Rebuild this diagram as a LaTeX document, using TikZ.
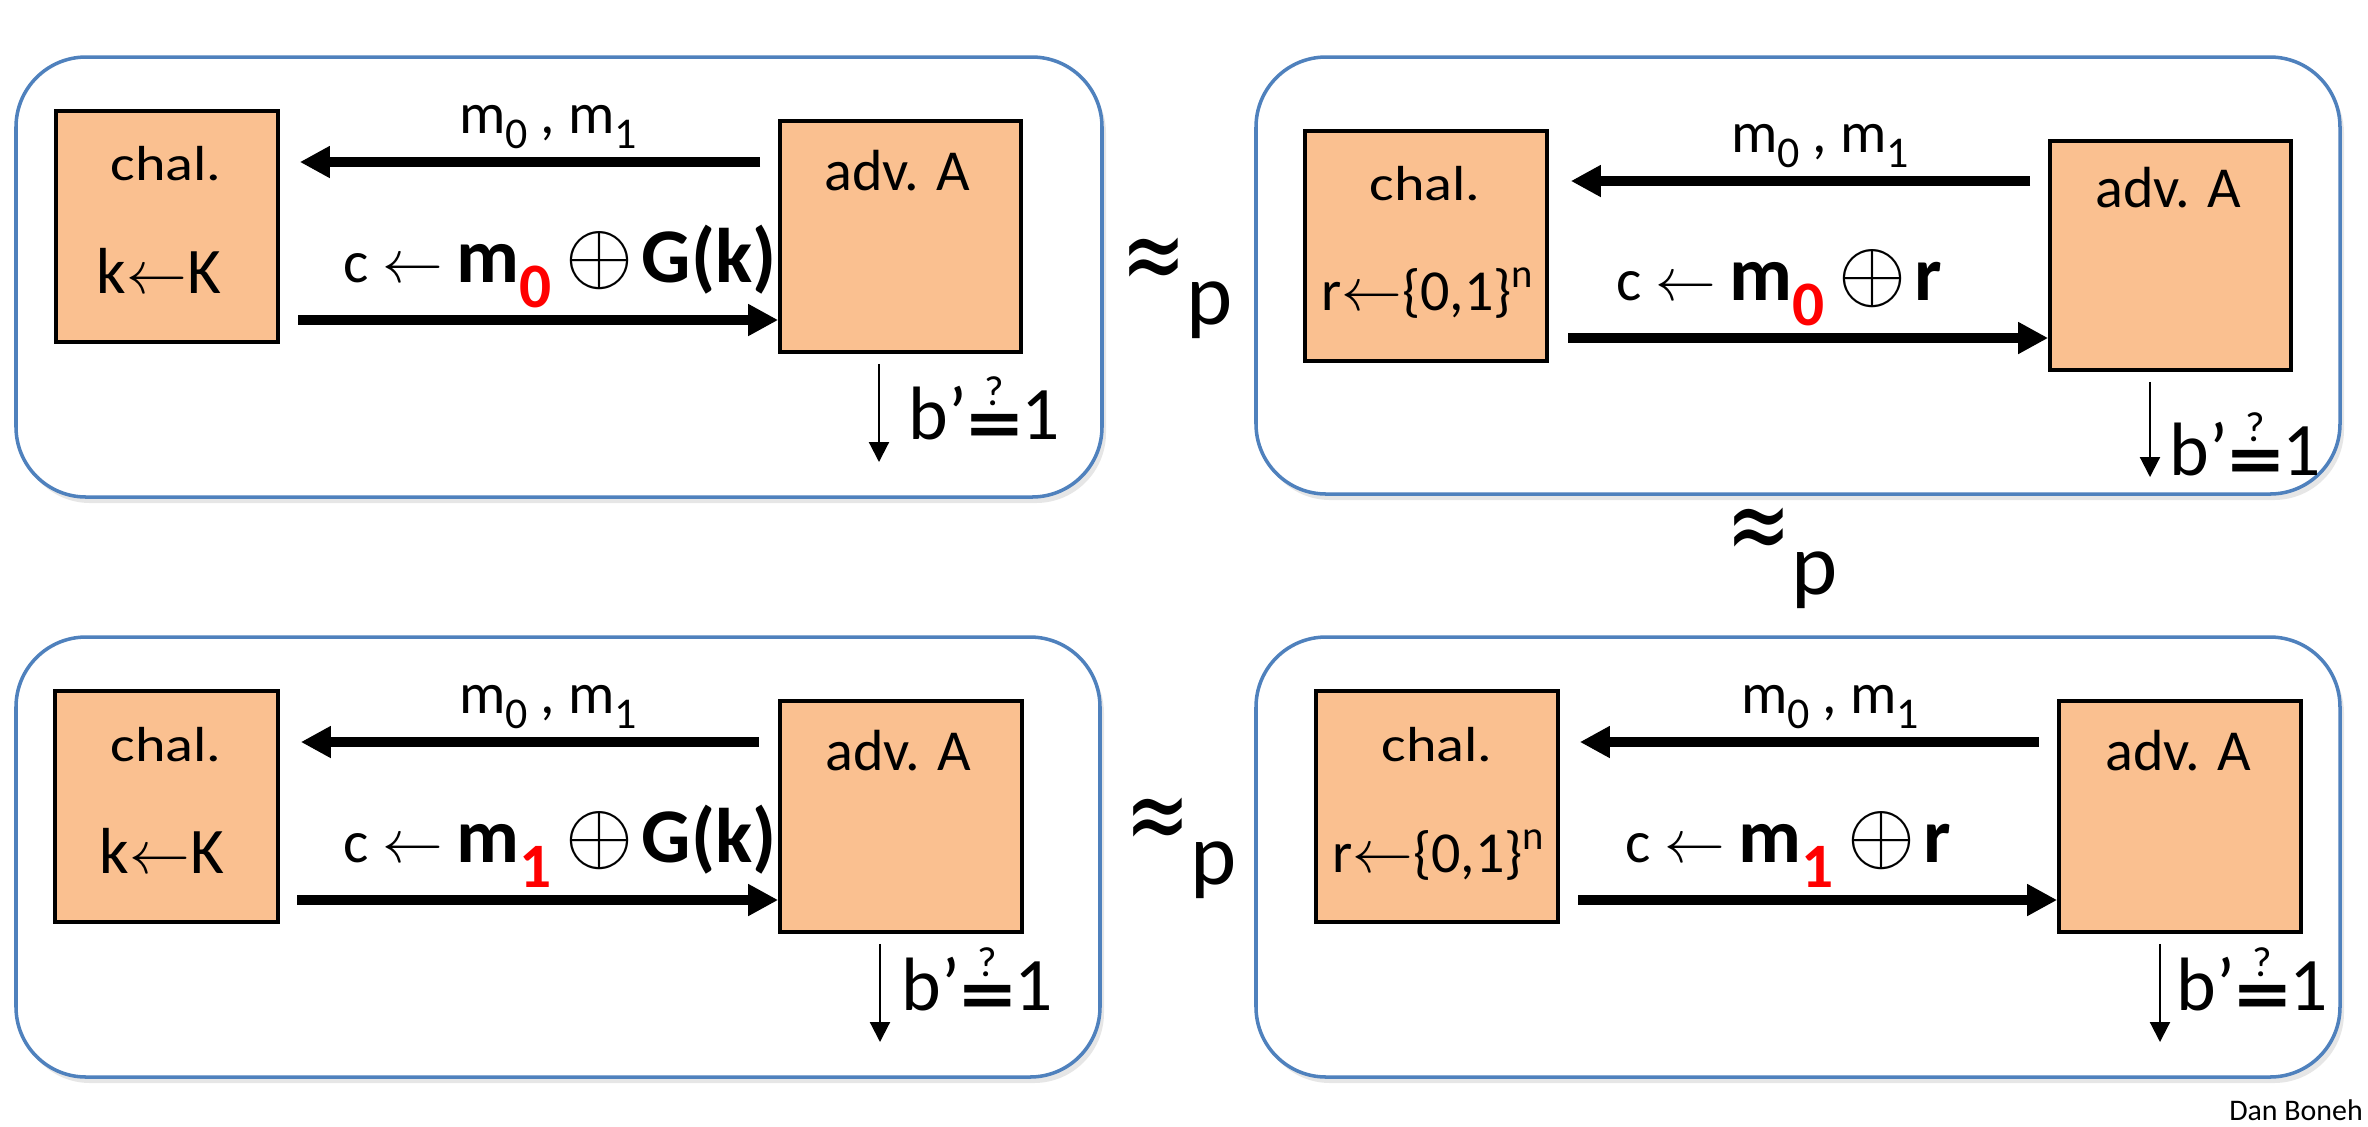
\documentclass[tikz,border=0pt]{standalone}
\usepackage{fontspec}
\usepackage{graphicx}
\setmainfont{Carlito}
\newfontfamily\symfont{DejaVu Sans}
\usetikzlibrary{arrows.meta,shadows}

\definecolor{gameblue}{RGB}{79,129,189}
\definecolor{boxorange}{RGB}{250,192,144}

\newcommand{\low}[1]{\raisebox{-1.5mm}{\fontsize{12.5pt}{12.5pt}\selectfont #1}}
\newcommand{\redlow}[1]{\raisebox{-2.5mm}{\fontsize{18pt}{18pt}\selectfont\bfseries\color{red}#1}}
\newcommand{\xor}{\hspace{1.4mm}{\fontsize{24.88pt}{24.88pt}\selectfont$\oplus$}\hspace{0.8mm}}
\newcommand{\qeq}{\vbox{\offinterlineskip\halign{\hfil##\hfil\cr{\fontsize{12pt}{12pt}\selectfont ?}\cr\noalign{\kern0.8mm}\raisebox{-1.2mm}{\scalebox{1.45}[1.1]{\bfseries =}}\cr}}}
\newcommand{\apx}{\raisebox{3.3mm}{\scalebox{1}[1.4]{\symfont\fontsize{22pt}{22pt}\selectfont ≈}}{\fontsize{25pt}{25pt}\selectfont p}}
\newcommand{\boldpart}[1]{{\fontsize{22pt}{22pt}\selectfont\bfseries #1}}
\newcommand{\chal}{\scalebox{1.18}[1]{chal.}}

\tikzset{
  game/.style={draw=gameblue, line width=1pt, rounded corners=0.7cm, fill=white,
    drop shadow={shadow xshift=0.04cm, shadow yshift=-0.06cm, opacity=0.2}},
  party/.style={draw, line width=1pt, fill=boxorange, inner sep=0pt, minimum height=2.31cm},
  txt/.style={font=\fontsize{16.5pt}{16.5pt}\selectfont, inner sep=0pt, anchor=base},
  small/.style={font=\fontsize{14pt}{14pt}\selectfont, inner sep=0pt, anchor=base},
  keytxt/.style={font=\fontsize{18.5pt}{18.5pt}\selectfont, inner sep=0pt, anchor=base},
  ct/.style={font=\fontsize{17pt}{17pt}\selectfont, inner sep=0pt, anchor=base west},
  outp/.style={font=\fontsize{21.5pt}{21.5pt}\selectfont, inner sep=0pt, anchor=base west},
  bigarrow/.style={line width=3.1pt, -{Triangle[length=0.3cm, width=0.3cm]}},
  outarrow/.style={line width=0.6pt, -{Triangle[length=0.2cm, width=0.2cm]}},
}

\begin{document}
\begin{tikzpicture}[x=0.01cm, y=-0.01cm]
  \useasboundingbox (0,0) rectangle (2368,1126);

  %top left game
  \draw[game] (16,57) rectangle (1102,497);
  \node[party, minimum width=2.22cm] (chal1) at (167,226.5) {};
  \node[party, minimum width=2.41cm] (adv1) at (900.5,236.5) {};
  \node[small] (ct1) at (166,180) {\chal};
  \node[keytxt] (key1) at (159,293) {k$\leftarrow$K};
  \node[txt] (at1) at (897,190) {adv. A};
  \node[txt] (m1) at (548,133) {m\low{0} , m\low{1}};
  \node[ct] (c1) at (343,282) {c $\leftarrow$ \boldpart{m\redlow{0}\xor G(k)}};
  \coordinate (s1) at (760,162);
  \coordinate (r1) at (298,320);
  \coordinate (o1) at (879,462);
  \draw[bigarrow, shorten >=0.2cm] (s1) -- (chal1.east |- s1);
  \draw[bigarrow] (r1) -- (adv1.west |- r1);
  \draw[outarrow, shorten <=0.1cm] (adv1.south -| o1) -- (o1);
  \node[outp] (b1) at (908,439) {b’\qeq1};

  %top right game
  \draw[game] (1256,57) rectangle (2340,494);
  \node[party, minimum width=2.42cm, minimum height=2.30cm] (chal2) at (1426,246) {};
  \node[party, minimum width=2.41cm, minimum height=2.29cm] (adv2) at (2170.5,255.5) {};
  \node[small] (ct2) at (1425,200) {\chal};
  \node[txt] (key2) at (1428,310) {r$\leftarrow$\{0,1\}\textsuperscript{n}};
  \node[txt] (at2) at (2168,207) {adv. A};
  \node[txt] (m2) at (1820,152) {m\low{0} , m\low{1}};
  \node[ct] (c2) at (1616,300) {c $\leftarrow$ \boldpart{m\redlow{0}\xor r}};
  \coordinate (s2) at (2030,181);
  \coordinate (r2) at (1568,338);
  \coordinate (o2) at (2150,477);
  \draw[bigarrow, shorten >=0.22cm] (s2) -- (chal2.east |- s2);
  \draw[bigarrow] (r2) -- (adv2.west |- r2);
  \draw[outarrow, shorten <=0.1cm] (adv2.south -| o2) -- (o2);
  \node[outp] (b2) at (2169,475) {b’\qeq1};

  %bottom left game
  \draw[game] (16,637) rectangle (1100,1077);
  \node[party, minimum width=2.23cm] (chal3) at (166.5,806.5) {};
  \node[party, minimum width=2.42cm] (adv3) at (901,816.5) {};
  \node[small] (ct3) at (166,761) {\chal};
  \node[keytxt] (key3) at (162,873) {k$\leftarrow$K};
  \node[txt] (at3) at (898,770) {adv. A};
  \node[txt] (m3) at (548,713) {m\low{0} , m\low{1}};
  \node[ct] (c3) at (343,862) {c $\leftarrow$ \boldpart{m\redlow{1}\xor G(k)}};
  \coordinate (s3) at (759,742);
  \coordinate (r3) at (297,900);
  \coordinate (o3) at (880,1042);
  \draw[bigarrow, shorten >=0.21cm] (s3) -- (chal3.east |- s3);
  \draw[bigarrow] (r3) -- (adv3.west |- r3);
  \draw[outarrow, shorten <=0.1cm] (adv3.south -| o3) -- (o3);
  \node[outp] (b3) at (901,1010) {b’\qeq1};

  %bottom right game
  \draw[game] (1256,637) rectangle (2340,1077);
  \node[party, minimum width=2.42cm] (chal4) at (1437,806.5) {};
  \node[party, minimum width=2.42cm] (adv4) at (2180,816.5) {};
  \node[small] (ct4) at (1437,761) {\chal};
  \node[txt] (key4) at (1439,872) {r$\leftarrow$\{0,1\}\textsuperscript{n}};
  \node[txt] (at4) at (2178,770) {adv. A};
  \node[txt] (m4) at (1830,713) {m\low{0} , m\low{1}};
  \node[ct] (c4) at (1625,862) {c $\leftarrow$ \boldpart{m\redlow{1}\xor r}};
  \coordinate (s4) at (2039,742);
  \coordinate (r4) at (1578,900);
  \coordinate (o4) at (2160,1042);
  \draw[bigarrow, shorten >=0.2cm] (s4) -- (chal4.east |- s4);
  \draw[bigarrow] (r4) -- (adv4.west |- r4);
  \draw[outarrow, shorten <=0.1cm] (adv4.south -| o4) -- (o4);
  \node[outp] (b4) at (2176,1010) {b’\qeq1};

  %indistinguishable
  \node[inner sep=0pt, anchor=base west] (apx1) at (1121,324) {\apx};
  \node[inner sep=0pt, anchor=base west] (apx2) at (1726,594) {\apx};
  \node[inner sep=0pt, anchor=base west] (apx3) at (1125,884) {\apx};

  \node[font=\fontsize{8.5pt}{8.5pt}\selectfont] (credit) at (2296,1110) {Dan Boneh};
\end{tikzpicture}
\end{document}
